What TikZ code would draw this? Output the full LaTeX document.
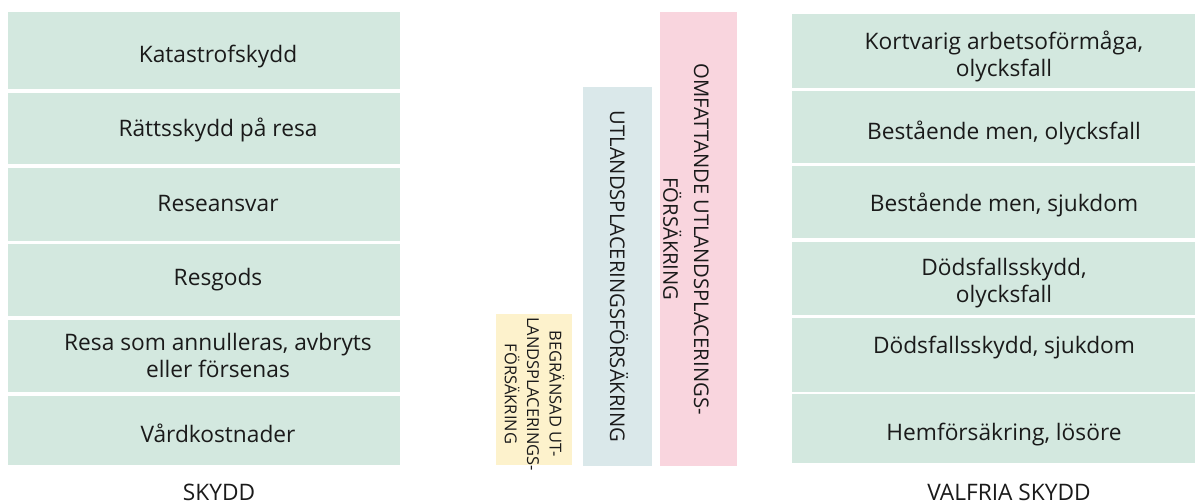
\documentclass[tikz,border=0pt]{standalone}
\usepackage{fontspec}
\setmainfont{Open Sans}
\definecolor{boxgreen}{HTML}{D3E8DF}
\definecolor{barblue}{HTML}{DAE8EA}
\definecolor{barpink}{HTML}{F9D5DE}
\definecolor{baryellow}{HTML}{FDF2CC}
\definecolor{ink}{HTML}{1A1A1A}
\begin{document}
\begin{tikzpicture}[x=1bp,y=-1bp,
  every node/.style={text=ink,font=\fontsize{22.8}{28}\selectfont,inner sep=0pt},
  boxtext/.style={align=center,anchor=base},
  vtext/.style={rotate=-90,align=center,font=\fontsize{20.3}{31}\selectfont},
  vsmall/.style={rotate=-90,align=center,font=\fontsize{16.5}{22.5}\selectfont},
  caption/.style={anchor=base}]
\useasboundingbox (0,0) rectangle (1203,504);
% left column: top, bottom, baseline of last line, text
\foreach \t/\b/\y/\s [count=\i] in {12/89/63/Katastrofskydd,93/164/137/Rättsskydd på resa,168/241/212/Reseansvar,244/316/286/Resgods,320/392/378/{Resa som annulleras, avbryts\\eller försenas},396/465/442/Vårdkostnader}{
  \fill[boxgreen] (8,\t) rectangle (400,\b);
  \node[boxtext] (l\i) at (218,\y) {\s};
}
% right column
\foreach \t/\b/\y/\s [count=\i] in {14/88/77/{Kortvarig arbetsoförmåga,\\olycksfall},91/163/140/{Bestående men, olycksfall},166/238/212/{Bestående men, sjukdom},242/315/303/{Dödsfallsskydd,\\olycksfall},318/392/354/{Dödsfallsskydd, sjukdom},394/463/440/{Hemförsäkring, lösöre}}{
  \fill[boxgreen] (792,\t) rectangle (1195,\b);
  \node[boxtext] (r\i) at (1004,\y) {\s};
}
% middle bars
\fill[baryellow] (496,314) rectangle (572,465);
\node[vsmall] (ytext) at (534.5,394) {BEGRÄNSAD UT-\\LANDSPLACERINGS-\\FÖRSÄKRING};
\fill[barblue] (583,87) rectangle (652,466);
\node[vtext] (btext) at (619,276.5) {UTLANDSPLACERINGSFÖRSÄKRING};
\fill[barpink] (660,12) rectangle (737,466);
\node[vtext] (ptext) at (686,239) {OMFATTANDE UTLANDSPLACERINGS-\\FÖRSÄKRING};
% captions
\node[caption] (skydd) at (219,500) {SKYDD};
\node[caption] (valfria) at (1009,500) {VALFRIA SKYDD};
\end{tikzpicture}
\end{document}
